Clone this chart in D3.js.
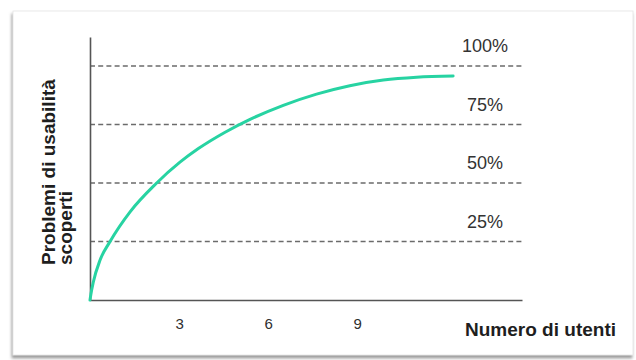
<!DOCTYPE html>
<html>
<head>
<meta charset="utf-8">
<script src="https://cdn.jsdelivr.net/npm/d3@7"></script>
<style>
  html, body { margin: 0; padding: 0; background: #ffffff; }
  svg { display: block; font-family: "Liberation Sans", Arial, sans-serif; }
</style>
</head>
<body>
<svg id="chart" width="636" height="360"></svg>
<script>
// Numero di utenti (x) and share of usability problems found, in percent (y)
const userCounts = [0, 0.03, 0.11, 0.34, 0.67, 1.35, 2.22, 3.03, 3.65, 4.55, 5.39, 6.51, 7.63, 8.75, 9.88, 11.0, 12.23];
const foundPct   = [0, 2.5, 7.6, 17.1, 24.9, 37.7, 49.7, 58.9, 64.7, 71.7, 77.2, 83.2, 88.0, 91.6, 94.0, 95.2, 95.7];

// Reference levels and their labels
const levels      = [25, 50, 75, 100];
const levelLabels = ["25%", "50%", "75%", "100%"];

// Tick labels on the horizontal axis
const xTicks = [3, 6, 9];

const xTitle = "Numero di utenti";
const yTitleLines = ["Problemi di usabilità", "scoperti"];

const svg = d3.select("#chart");

// Card with a soft drop shadow
const defs = svg.append("defs");
const f = defs.append("filter").attr("id", "cardShadow")
  .attr("x", "-5%").attr("y", "-5%").attr("width", "110%").attr("height", "115%");
f.append("feDropShadow").attr("dx", -1).attr("dy", 3).attr("stdDeviation", 1.6)
  .attr("flood-color", "#7a7a7a").attr("flood-opacity", 0.75);

svg.append("rect")
  .attr("x", 13).attr("y", 11).attr("width", 620).attr("height", 344)
  .attr("fill", "#ffffff")
  .attr("stroke", "#e4e4e4").attr("stroke-width", 0.8)
  .attr("filter", "url(#cardShadow)");

// Scales
const x = d3.scaleLinear().domain([0, 14.55]).range([90, 522]);
const y = d3.scaleLinear().domain([0, 112.4]).range([300, 37]);

// Dashed reference lines
svg.append("g").selectAll("line")
  .data(levels)
  .join("line")
  .attr("x1", x(0)).attr("x2", x.range()[1])
  .attr("y1", d => y(d)).attr("y2", d => y(d))
  .attr("stroke", "#6b6b6b")
  .attr("stroke-width", 1.5)
  .attr("stroke-dasharray", "5,3.2");

// Level labels
svg.append("g").selectAll("text")
  .data(levels)
  .join("text")
  .attr("x", 485)
  .attr("y", d => y(d) - 14)
  .attr("text-anchor", "middle")
  .attr("font-size", 18)
  .attr("fill", "#333")
  .text((d, i) => levelLabels[i]);

// Y axis (line only)
const yAxis = svg.append("g")
  .attr("transform", `translate(${x(0)},0)`)
  .call(d3.axisLeft(y).tickValues([]).tickSizeOuter(0));
yAxis.select(".domain").attr("stroke", "#555").attr("stroke-width", 1.6);

// X axis with tick labels 3, 6, 9
const xAxis = svg.append("g")
  .attr("transform", `translate(0,${y(0)})`)
  .call(d3.axisBottom(x).tickValues(xTicks).tickSize(0).tickSizeOuter(0).tickPadding(18));
xAxis.select(".domain").attr("stroke", "#555").attr("stroke-width", 1.6);
xAxis.selectAll(".tick text")
  .attr("font-size", 15)
  .attr("font-family", "Liberation Sans, Arial, sans-serif")
  .attr("fill", "#2e2e2e");

// Discovery curve
const pts = userCounts.map((u, i) => [u, foundPct[i]]);
svg.append("path")
  .datum(pts)
  .attr("fill", "none")
  .attr("stroke", "#27d3a2")
  .attr("stroke-width", 3)
  .attr("stroke-linecap", "round")
  .attr("d", d3.line().x(d => x(d[0])).y(d => y(d[1])).curve(d3.curveMonotoneX));

// Axis titles
svg.append("text")
  .attr("x", 616).attr("y", 336)
  .attr("text-anchor", "end")
  .attr("font-size", 19)
  .attr("font-weight", "bold")
  .attr("fill", "#1e1e1e")
  .text(xTitle);

const yt = svg.append("text")
  .attr("transform", "translate(55,265) rotate(-90)")
  .attr("text-anchor", "start")
  .attr("font-size", 19)
  .attr("font-weight", "bold")
  .attr("fill", "#1e1e1e");
yt.selectAll("tspan")
  .data(yTitleLines)
  .join("tspan")
  .attr("x", 0)
  .attr("dy", (d, i) => i === 0 ? 0 : 17)
  .text(d => d);
</script>
</body>
</html>
